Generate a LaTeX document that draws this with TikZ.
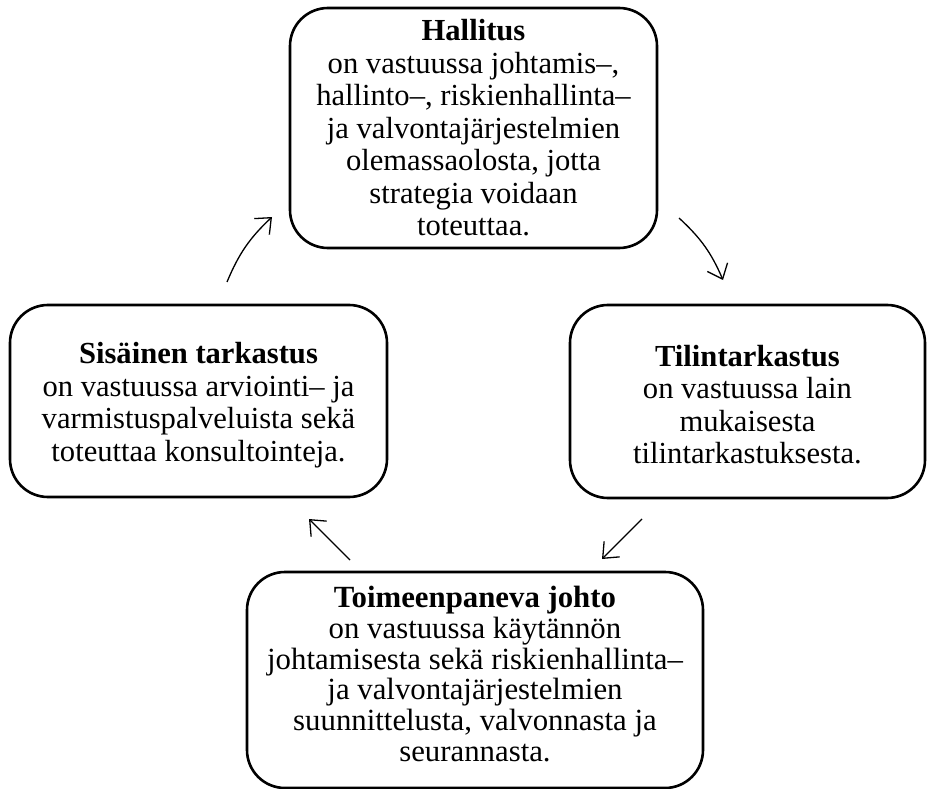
\documentclass[tikz,border=0pt]{standalone}
\usepackage{fontspec}
\setmainfont{Liberation Serif}
\usetikzlibrary{arrows.meta}
\begin{document}
\begin{tikzpicture}[x=1pt,y=-1pt,
  box/.style={draw, line width=2.6pt, rounded corners=38pt, inner sep=0pt},
  txt/.style={align=center, inner sep=0pt, font=\fontsize{30.6}{32.5}\selectfont},
  flow/.style={line width=1.3pt, -{Straight Barb[length=13pt,width=22pt,line width=1.3pt]}}]
\useasboundingbox (0,0) rectangle (927,789);

\node[box, minimum width=367pt, minimum height=240pt] (hal) at (473.5,128) {};
\node[txt] (halt) at (473.5,128)
  {\textbf{Hallitus}\\on vastuussa johtamis–,\\hallinto–, riskienhallinta–\\ja valvontajärjestelmien\\olemassaolosta, jotta\\strategia voidaan\\toteuttaa.};
\node[box, minimum width=355pt, minimum height=193pt] (til) at (747.5,401.5) {};
\node[txt] (tilt) at (747.5,404.5)
  {\textbf{Tilintarkastus}\\on vastuussa lain\\mukaisesta\\tilintarkastuksesta.};
\node[box, minimum width=456pt, minimum height=216pt] (toi) at (475,680) {};
\node[txt, font=\fontsize{30.8}{30.8}\selectfont] (toit) at (475,674)
  {\textbf{Toimeenpaneva johto}\\on vastuussa käytännön\\johtamisesta sekä riskienhallinta–\\ja valvontajärjestelmien\\suunnittelusta, valvonnasta ja\\seurannasta.};
\node[box, minimum width=377pt, minimum height=192pt] (sis) at (198.5,401) {};
\node[txt] (sist) at (198.5,405)
  {\textbf{Sisäinen tarkastus}\\on vastuussa arviointi– ja\\varmistuspalveluista sekä\\toteuttaa konsultointeja.};

\coordinate (a1s) at (227,282); \coordinate (a1e) at (272,217);
\coordinate (a2s) at (679,218); \coordinate (a2e) at (723,280);
\coordinate (a3s) at (642,519); \coordinate (a3e) at (602,559);
\coordinate (a4s) at (350,560); \coordinate (a4e) at (309,519);

\draw[flow] (a1s) to[bend left=12] (a1e);
\draw[flow] (a2s) to[bend left=12] (a2e);
\draw[flow] (a3s) -- (a3e);
\draw[flow] (a4s) -- (a4e);
\end{tikzpicture}
\end{document}
